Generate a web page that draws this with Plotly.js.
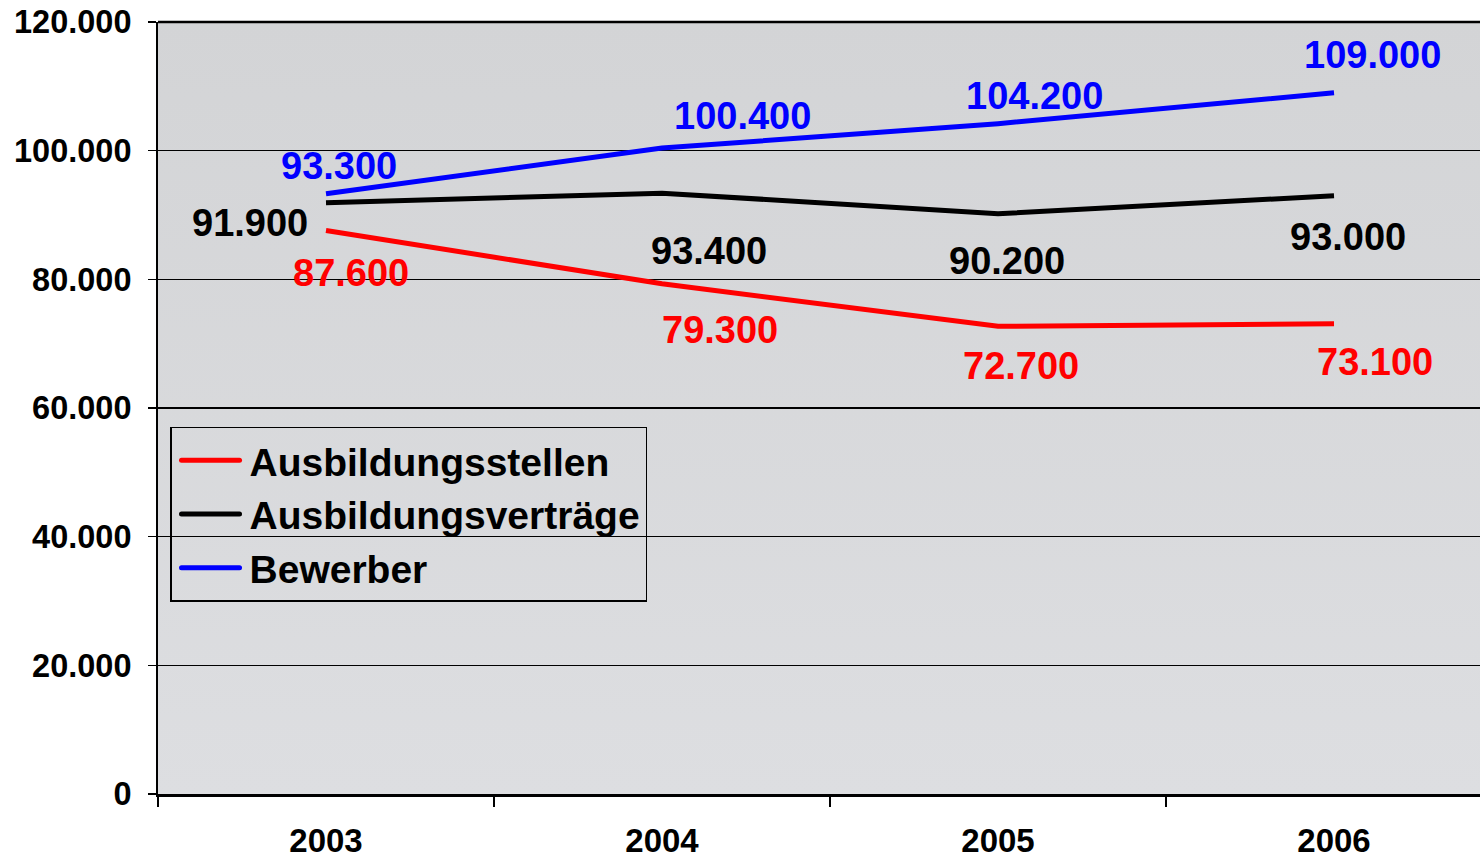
<!DOCTYPE html>
<html>
<head>
<meta charset="utf-8">
<script src="https://cdn.plot.ly/plotly-3.0.1.min.js"></script>
<style>
html,body{margin:0;padding:0;background:#fff;}
#chart{width:1480px;height:859px;}
</style>
</head>
<body>
<div id="chart"></div>
<script>
// ---- data ----
var years = ['2003', '2004', '2005', '2006'];
var seriesNames = ['Ausbildungsstellen', 'Ausbildungsverträge', 'Bewerber'];
var stellen = [87600, 79300, 72700, 73100];
var vertraege = [91900, 93400, 90200, 93000];
var bewerber = [93300, 100400, 104200, 109000];
var yTickVals = [0, 20000, 40000, 60000, 80000, 100000, 120000];

// ---- styling (label placement in pixels relative to each point) ----
var colors = ['#ff0000', '#000000', '#0000ff'];
var labelDx = [[25, 58, 23, 41], [-76, 47, 9, 14], [13, 80, 36, 38]];
var labelDy = [[-43, -46, -40, -38], [-20, -58, -47, -41], [28, 32, 28, 38]];

var FONT = 'Liberation Sans, Arial, Helvetica, sans-serif';
var allSeries = [stellen, vertraege, bewerber];

var traces = allSeries.map(function (vals, i) {
  return {
    type: 'scatter', mode: 'lines', name: seriesNames[i],
    x: years, y: vals,
    line: {color: colors[i], width: 5},
    hoverinfo: 'skip'
  };
});

function fmt(v) {
  return String(v).replace(/\B(?=(\d{3})+(?!\d))/g, '.');
}

var annotations = [];
allSeries.forEach(function (vals, i) {
  vals.forEach(function (v, j) {
    annotations.push({
      x: j, y: v, xref: 'x', yref: 'y',
      text: fmt(v), showarrow: false,
      xanchor: 'center', yanchor: 'middle',
      xshift: labelDx[i][j], yshift: labelDy[i][j],
      font: {family: FONT, size: 38, color: colors[i], weight: 700}
    });
  });
});

var svg = '<svg xmlns="http://www.w3.org/2000/svg" width="100" height="100" preserveAspectRatio="none">' +
  '<defs><linearGradient id="g" x1="0" y1="0" x2="0" y2="1">' +
  '<stop offset="0" stop-color="#d3d4d6"/><stop offset="1" stop-color="#dddee1"/>' +
  '</linearGradient></defs><rect width="100" height="100" fill="url(#g)"/></svg>';

var layout = {
  width: 1480, height: 859,
  margin: {l: 158, r: 0, t: 22, b: 65, pad: 0},
  paper_bgcolor: '#ffffff',
  plot_bgcolor: '#d8d9db',
  separators: ',.',
  showlegend: true,
  font: {family: FONT, color: '#000', weight: 700},
  xaxis: {
    type: 'category',
    range: [-0.5, 3.4345],
    showgrid: false,
    showline: true, linecolor: '#000', linewidth: 3,
    ticks: 'outside', tickson: 'boundaries', ticklen: 10, tickwidth: 1.5, tickcolor: '#000',
    ticklabelstandoff: 15,
    tickfont: {family: FONT, size: 33, color: '#000', weight: 700},
    zeroline: false, fixedrange: true
  },
  yaxis: {
    range: [0, 120000],
    tickvals: yTickVals,
    tickformat: ',d',
    showgrid: true, gridcolor: '#000', gridwidth: 1.5,
    showline: true, linecolor: '#000', linewidth: 2,
    ticks: 'outside', ticklen: 8, tickwidth: 1.5, tickcolor: '#000',
    ticklabelstandoff: 10,
    tickfont: {family: FONT, size: 32.5, color: '#000', weight: 700},
    zeroline: false, fixedrange: true
  },
  legend: {
    x: 0.0091, y: 0.4754, xanchor: 'left', yanchor: 'top',
    bgcolor: 'rgba(0,0,0,0)', bordercolor: '#000', borderwidth: 1.5,
    font: {family: FONT, size: 39, color: '#000', weight: 700},
    itemwidth: 68,
    traceorder: 'normal'
  },
  shapes: [{
    type: 'line', xref: 'paper', yref: 'paper', x0: 0, x1: 1, y0: 1, y1: 1,
    line: {color: '#000', width: 2.5}
  }],
  images: [{
    source: 'data:image/svg+xml;charset=utf-8,' + encodeURIComponent(svg),
    xref: 'paper', yref: 'paper', x: 0, y: 1, sizex: 1, sizey: 1,
    sizing: 'stretch', layer: 'below', xanchor: 'left', yanchor: 'top'
  }],
  annotations: annotations
};

Plotly.newPlot('chart', traces, layout, {displayModeBar: false, staticPlot: true}).then(function (gd) {
  // lengthen legend line samples to match the reference look
  var paths = gd.querySelectorAll('.legend .legendlines path');
  paths.forEach(function (p) {
    p.setAttribute('d', 'M10,0h58');
    p.style.strokeLinecap = 'round';
  });
});
</script>
</body>
</html>
